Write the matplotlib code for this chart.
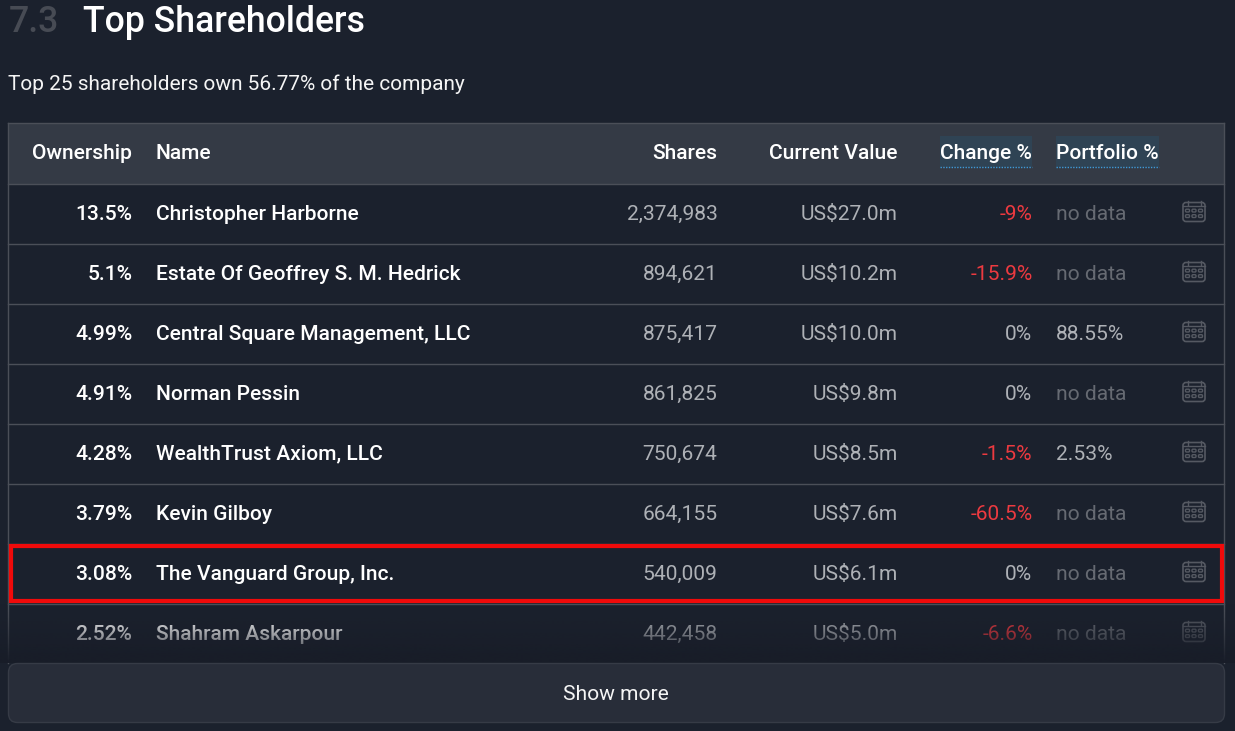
import numpy as np
import matplotlib
matplotlib.use("Agg")
import matplotlib.pyplot as plt
from matplotlib.patches import Rectangle, FancyBboxPatch

plt.rcParams['font.family'] = ['Roboto', 'DejaVu Sans']

# table contents
headers = ['Ownership', 'Name', 'Shares', 'Current Value', 'Change %', 'Portfolio %']
ownership = ['13.5%', '5.1%', '4.99%', '4.91%', '4.28%', '3.79%', '3.08%', '2.52%']
names = ['Christopher Harborne', 'Estate Of Geoffrey S. M. Hedrick', 'Central Square Management, LLC',
         'Norman Pessin', 'WealthTrust Axiom, LLC', 'Kevin Gilboy', 'The Vanguard Group, Inc.',
         'Shahram Askarpour']
shares = ['2,374,983', '894,621', '875,417', '861,825', '750,674', '664,155', '540,009', '442,458']
values = ['US$27.0m', 'US$10.2m', 'US$10.0m', 'US$9.8m', 'US$8.5m', 'US$7.6m', 'US$6.1m', 'US$5.0m']
changes = ['-9%', '-15.9%', '0%', '0%', '-1.5%', '-60.5%', '0%', '-6.6%']
portfolio = ['no data', 'no data', '88.55%', 'no data', '2.53%', 'no data', 'no data', 'no data']

BG = '#1b212d'
LINE = '#4b4f58'
WHITE = '#ffffff'
GREY = '#aeb1b6'
DIM = '#666a72'
RED = '#ec3a40'
BODY = 15.1


def calendar(ax, cx, cy, col):
    # little calendar icon, drawn around its centre
    ax.add_patch(FancyBboxPatch((cx - 11, cy - 9), 22, 19, boxstyle='round,pad=0,rounding_size=3',
                                fc='none', ec=col, lw=1.2, zorder=3))
    ax.plot([cx - 11, cx + 11], [cy - 6, cy - 6], color=col, lw=1.0, zorder=3)
    for dx in (-6.5, 6.5):
        ax.plot([cx + dx, cx + dx], [cy - 11, cy - 7], color=col, lw=1.0, zorder=3)
    for dx in (-6.5, 0, 6.5):
        for dy in (-1, 4.5):
            ax.add_patch(FancyBboxPatch((cx + dx - 2, cy + dy - 1.3), 4, 2.8,
                                        boxstyle='round,pad=0,rounding_size=1',
                                        fc='none', ec=col, lw=1.0, zorder=3))


fig = plt.figure(figsize=(12.35, 7.31), dpi=100, facecolor=BG)
ax = fig.add_axes([0, 0, 1, 1])
ax.set_xlim(0, 1235)
ax.set_ylim(731, 0)
ax.axis('off')

# heading
ax.text(9, 22.5, '7.3', fontsize=25.7, fontweight='medium', color='#474b54', va='center')
ax.text(83, 22.5, 'Top Shareholders', fontsize=25.7, fontweight='medium', color=WHITE, va='center')
ax.text(8.5, 84, 'Top 25 shareholders own 56.77% of the company', fontsize=15.03, color='#f5f5f5', va='center')

# header band
ax.add_patch(Rectangle((8, 123), 1216, 61, fc='#343a45', ec='none', zorder=1))
ax.plot([8, 1224], [123, 123], color=LINE, lw=1, zorder=2)
for x, w in ((940, 92), (1056, 103)):
    ax.add_patch(Rectangle((x, 136), w, 31, fc='#2f4354', ec='none', zorder=1.5))
    ax.plot([x, x + w], [167, 167], color='#3d9bd9', lw=1, ls=(0, (1, 1)), zorder=2)

head_y = 153.5
ax.text(132, head_y, headers[0], fontsize=BODY, fontweight='medium', color=WHITE, ha='right', va='center', zorder=4)
ax.text(155.5, head_y, headers[1], fontsize=BODY, fontweight='medium', color=WHITE, va='center', zorder=4)
ax.text(717, head_y, headers[2], fontsize=BODY, fontweight='medium', color=WHITE, ha='right', va='center', zorder=4)
ax.text(897.5, head_y, headers[3], fontsize=BODY, fontweight='medium', color=WHITE, ha='right', va='center', zorder=4)
ax.text(1032, head_y, headers[4], fontsize=BODY, fontweight='medium', color=WHITE, ha='right', va='center', zorder=4)
ax.text(1056, head_y, headers[5], fontsize=BODY, fontweight='medium', color=WHITE, va='center', zorder=4)

# rows
for i in range(len(names)):
    y = 214 + 60 * i
    ax.plot([8, 1224], [y - 30, y - 30], color=LINE, lw=1, zorder=2)
    ax.text(132.3, y, ownership[i], fontsize=BODY, fontweight='medium', color=WHITE, ha='right', va='center', zorder=4)
    ax.text(156, y, names[i], fontsize=BODY, fontweight='medium', color=WHITE, va='center', zorder=4)
    ax.text(717.5, y, shares[i], fontsize=BODY, color=GREY, ha='right', va='center', zorder=4)
    ax.text(897.5, y, values[i], fontsize=BODY, color=GREY, ha='right', va='center', zorder=4)
    ax.text(1032.5, y, changes[i], fontsize=BODY, color=RED if changes[i] != '0%' else GREY,
            ha='right', va='center', zorder=4)
    ax.text(1056, y, portfolio[i], fontsize=BODY, color=DIM if portfolio[i] == 'no data' else GREY,
            va='center', zorder=4)
    calendar(ax, 1194, y - 2.5, '#555962')

# table side borders
for x in (8, 1224):
    ax.plot([x, x], [123, 663], color=LINE, lw=1, zorder=2)

# fade out over the last row
fade = np.zeros((64, 2, 4))
fade[..., :3] = matplotlib.colors.to_rgb('#181d28')
fade[..., 3] = np.linspace(0, 1, 64)[:, None] ** 1.3
ax.imshow(fade, extent=(0, 1235, 663, 603), aspect='auto', zorder=5, interpolation='bilinear')
ax.set_xlim(0, 1235)
ax.set_ylim(731, 0)

# highlight box
ax.add_patch(Rectangle((11, 545.5), 1211, 55, fc='none', ec='#f00a0a', lw=3, zorder=6))

# show more button
ax.add_patch(FancyBboxPatch((8.5, 663.5), 1216, 59, boxstyle='round,pad=0,rounding_size=9',
                            fc='#282d39', ec='#363b46', lw=1, zorder=7))
ax.text(616, 694, 'Show more', fontsize=BODY, color='#f5f5f5', ha='center', va='center', zorder=8)

fig.savefig('out.png', dpi=100, facecolor=BG)
